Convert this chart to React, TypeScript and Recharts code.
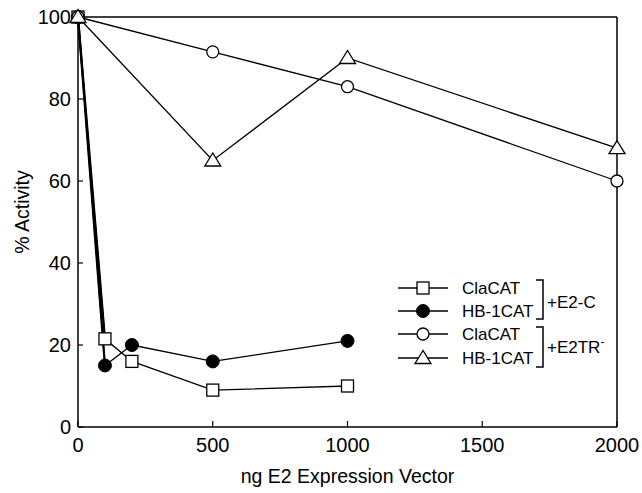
import React from "react";
import { LineChart, Line, XAxis, YAxis, Legend, ReferenceLine } from "recharts";

// x = ng of E2 expression vector, y = % activity
const ngE2C = [0, 100, 200, 500, 1000];
const claCatE2C = [100, 21.5, 16, 9, 10];
const hbCatE2C = [100, 15, 20, 16, 21];

const ngE2TR = [0, 500, 1000, 2000];
const claCatE2TR = [100, 91.5, 83, 60];
const hbCatE2TR = [100, 65, 90, 68];

const xTicks = [0, 500, 1000, 1500, 2000];
const yTicks = [0, 20, 40, 60, 80, 100];

const FONT = '"Liberation Sans", Arial, Helvetica, sans-serif';

const toPoints = (xs: number[], ys: number[]) =>
  xs.map((x, i) => ({ x, y: ys[i] }));

/** --- Markers --- */
const Square = (p: any) =>
  p.cx == null ? null : (
    <rect key={`sq-${p.index}`} x={p.cx - 6} y={p.cy - 6} width={12} height={12}
      fill="#fff" stroke="#000" strokeWidth={1.3} />
  );

const Dot = (p: any) =>
  p.cx == null ? null : (
    <circle key={`dt-${p.index}`} cx={p.cx} cy={p.cy} r={6.5} fill="#000" stroke="#000" />
  );

const Ring = (p: any) =>
  p.cx == null ? null : (
    <circle key={`rg-${p.index}`} cx={p.cx} cy={p.cy} r={6} fill="#fff" stroke="#000" strokeWidth={1.3} />
  );

const Tri = (p: any) =>
  p.cx == null ? null : (
    <polygon key={`tr-${p.index}`}
      points={`${p.cx},${p.cy - 7.5} ${p.cx - 8},${p.cy + 5.5} ${p.cx + 8},${p.cy + 5.5}`}
      fill="#fff" stroke="#000" strokeWidth={1.3} />
  );

/** --- Legend drawn in the plot --- */
const legendRows = [
  { name: "ClaCAT", Marker: Square },
  { name: "HB-1CAT", Marker: Dot },
  { name: "ClaCAT", Marker: Ring },
  { name: "HB-1CAT", Marker: Tri },
];
const rowY = [18, 41, 64, 88];

const LegendBox = () => (
  <svg width={250} height={110} style={{ display: "block", overflow: "visible" }}>
    {legendRows.map((r, i) => (
      <g key={i}>
        <line x1={8} x2={58} y1={rowY[i]} y2={rowY[i]} stroke="#000" strokeWidth={1.3} />
        <r.Marker cx={33} cy={rowY[i]} index={i} />
        <text x={72} y={rowY[i] + 6} fontFamily={FONT} fontSize={17} fill="#000">
          {r.name}
        </text>
      </g>
    ))}
    <path d="M146,10 H153 V49 H146" fill="none" stroke="#000" strokeWidth={1.5} />
    <path d="M146,57 H153 V97 H146" fill="none" stroke="#000" strokeWidth={1.5} />
    <text x={157} y={38} fontFamily={FONT} fontSize={17} fill="#000">+E2-C</text>
    <text x={157} y={83} fontFamily={FONT} fontSize={17} fill="#000">
      +E2TR<tspan dy={-7} fontSize={12}>-</tspan>
    </text>
  </svg>
);

const tickStyle = { fontSize: 20, fontFamily: FONT, fill: "#000" };

/** --- Component --- */
export default function App() {
  return (
    <div style={{ position: "absolute", left: 0, top: 0, background: "#fff" }}>
      <LineChart width={642} height={493}
        margin={{ top: 17, right: 25, bottom: 0, left: 0 }}>
        <XAxis type="number" dataKey="x" domain={[0, 2000]} ticks={xTicks}
          height={66} tickSize={-6} tickMargin={17} tick={tickStyle}
          axisLine={{ stroke: "#000", strokeWidth: 1.5 }}
          tickLine={{ stroke: "#000", strokeWidth: 1.2 }}
          label={{
            content: (props: any) => {
              const vb = props.viewBox;
              return (
                <text x={vb.x + vb.width / 2} y={vb.y + 56} textAnchor="middle"
                  fontFamily={FONT} fontSize={19.5} fill="#000">
                  ng E2 Expression Vector
                </text>
              );
            },
          }}
        />
        <YAxis type="number" domain={[0, 100]} ticks={yTicks} width={78}
          tickSize={-5} tickMargin={12} tick={tickStyle}
          axisLine={{ stroke: "#000", strokeWidth: 1.5 }}
          tickLine={{ stroke: "#000", strokeWidth: 1.2 }}
          label={{
            content: (props: any) => {
              const vb = props.viewBox;
              const cx = vb.x + 22;
              const cy = vb.y + vb.height / 2 - 10;
              return (
                <text x={cx} y={cy} transform={`rotate(-90 ${cx} ${cy})`}
                  textAnchor="middle" dominantBaseline="central"
                  fontFamily={FONT} fontSize={19.5} fill="#000">
                  % Activity
                </text>
              );
            },
          }}
        />

        {/* frame: top and right edges */}
        <ReferenceLine y={100} stroke="#000" strokeWidth={1.5} ifOverflow="visible" />
        <ReferenceLine x={2000} stroke="#000" strokeWidth={1.5} ifOverflow="visible" />

        {/* heavy first segments of the +E2-C series */}
        <Line data={toPoints(ngE2C.slice(0, 2), claCatE2C.slice(0, 2))} dataKey="y"
          stroke="#000" strokeWidth={2.2} dot={false} isAnimationActive={false} />
        <Line data={toPoints(ngE2C.slice(0, 2), hbCatE2C.slice(0, 2))} dataKey="y"
          stroke="#000" strokeWidth={2.2} dot={false} isAnimationActive={false} />

        <Line data={toPoints(ngE2C, hbCatE2C)} dataKey="y" stroke="#000"
          strokeWidth={1.3} dot={Dot} isAnimationActive={false} />
        <Line data={toPoints(ngE2C, claCatE2C)} dataKey="y" stroke="#000"
          strokeWidth={1.3} dot={Square} isAnimationActive={false} />
        <Line data={toPoints(ngE2TR, claCatE2TR)} dataKey="y" stroke="#000"
          strokeWidth={1.3} dot={Ring} isAnimationActive={false} />
        <Line data={toPoints(ngE2TR, hbCatE2TR)} dataKey="y" stroke="#000"
          strokeWidth={1.3} dot={Tri} isAnimationActive={false} />

        <Legend content={LegendBox} layout="horizontal" verticalAlign="middle"
          align="center"
          wrapperStyle={{ left: 390, top: 270, width: 250, height: 110 }} />
      </LineChart>
    </div>
  );
}
